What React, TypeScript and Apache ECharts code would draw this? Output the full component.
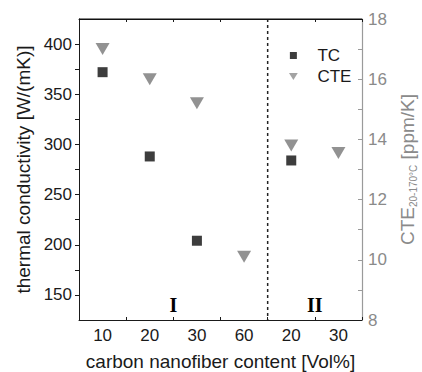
import React, { useEffect, useRef } from 'react';
import * as echarts from 'echarts';

const categories = ['10', '20', '30', '60', '20', '30'];
const tcValues: (number | null)[] = [372, 288, 204, null, 284, null];
const cteValues: (number | null)[] = [17.0, 16.0, 15.2, 10.1, 13.8, 13.55];
const leftLabelValues = [150, 200, 250, 300, 350, 400];
const leftTickValues = [150, 175, 200, 225, 250, 275, 300, 325, 350, 375, 400];
const rightLabelValues = [8, 10, 12, 14, 16, 18];
const rightTickValues = [9, 10, 11, 12, 13, 14, 15, 16, 17];
const groupLabels = ['I', 'II'];
const groupRanges: [number, number][] = [[1, 2], [4, 5]];
const boundaryPair: [number, number] = [3, 4];

const FONT = '"Liberation Sans", Arial, Helvetica, sans-serif';
const DARK = '#1a1a1a';
const GREY = '#8a8a8a';

export default function App() {
  const ref = useRef<HTMLDivElement>(null);
  useEffect(() => {
    if (!ref.current) return;
    const chart = echarts.init(ref.current, null, { renderer: 'svg' });
    const tcData = tcValues
      .map((v, i) => (v == null ? null : [i, v]))
      .filter((d) => d !== null);
    const cteData = cteValues
      .map((v, i) => (v == null ? null : [i, v]))
      .filter((d) => d !== null);
    const option: any = {
      animation: false,
      textStyle: { fontFamily: FONT },
      grid: {
        left: 79, right: 60, top: 19, bottom: 52, containLabel: false, outerBoundsMode: 'none',
      },
      legend: {
        orient: 'vertical',
        left: 284,
        top: 42,
        itemWidth: 10,
        itemHeight: 7,
        itemGap: 4,
        selectedMode: false,
        textStyle: { fontSize: 17, color: DARK, lineHeight: 17, padding: [0, 0, 0, 14], fontFamily: FONT },
        data: [
          { name: 'TC', icon: 'path://M0,0L10,0L10,10L0,10Z' },
          { name: 'CTE', icon: 'path://M0,0L10,0L5,8Z', itemStyle: { color: '#8c8c8c' } },
        ],
      },
      xAxis: [
        {
          type: 'category',
          data: categories,
          position: 'bottom',
          boundaryGap: true,
          axisLine: { show: true, onZero: false, lineStyle: { color: DARK, width: 1 } },
          axisTick: { show: true, inside: true, length: 3, lineStyle: { color: DARK } },
          axisLabel: { fontSize: 17, color: DARK, margin: 7, fontFamily: FONT },
          splitLine: { show: false },
          name: 'carbon nanofiber content [Vol%]',
          nameLocation: 'middle',
          nameGap: 32,
          nameTextStyle: { fontSize: 19, color: DARK, fontFamily: FONT },
        },
        {
          type: 'category',
          show: true,
          data: categories,
          position: 'top',
          boundaryGap: true,
          axisLine: { show: true, onZero: false, lineStyle: { color: DARK, width: 1 } },
          axisTick: { show: true, inside: true, length: 3, lineStyle: { color: DARK } },
          axisLabel: { show: false },
          splitLine: { show: false },
        },
      ],
      yAxis: [
        {
          type: 'value',
          position: 'left',
          min: 125,
          max: 425,
          axisLine: { show: true, onZero: false, lineStyle: { color: DARK, width: 1 } },
          axisTick: { show: true, inside: false, length: 4, customValues: leftTickValues, lineStyle: { color: DARK } },
          axisLabel: { fontSize: 17, color: DARK, margin: 7, customValues: leftLabelValues, fontFamily: FONT },
          splitLine: { show: false },
          name: 'thermal conductivity [W/(mK)]',
          nameLocation: 'middle',
          nameGap: 41,
          nameRotate: 90,
          nameTextStyle: { fontSize: 19, color: DARK, fontFamily: FONT },
        },
        {
          type: 'value',
          position: 'right',
          min: 8,
          max: 18,
          interval: 2,
          axisLine: { show: true, onZero: false, lineStyle: { color: '#9a9a9a', width: 1.2 } },
          axisTick: { show: true, inside: true, length: 4, customValues: rightTickValues, lineStyle: { color: '#9a9a9a' } },
          axisLabel: { fontSize: 17, color: GREY, margin: 6, customValues: rightLabelValues, fontFamily: FONT },
          splitLine: { show: false },
          name: '{m|CTE}{s|20-170°C}{m| [ppm/K]}',
          nameLocation: 'middle',
          nameGap: 30,
          nameRotate: 90,
          nameTextStyle: {
            color: GREY,
            fontFamily: FONT,
            rich: {
              m: { fontSize: 19, color: GREY, fontFamily: FONT, lineHeight: 22, verticalAlign: 'middle' },
              s: { fontSize: 10, color: GREY, fontFamily: FONT, lineHeight: 10, verticalAlign: 'bottom' },
            },
          },
        },
      ],
      series: [
        {
          name: 'TC',
          type: 'scatter',
          xAxisIndex: 0,
          yAxisIndex: 0,
          symbol: 'rect',
          symbolSize: 10,
          itemStyle: { color: '#0d0d0d' },
          data: tcData,
          z: 3,
        },
        {
          name: 'CTE',
          type: 'scatter',
          xAxisIndex: 0,
          yAxisIndex: 1,
          symbol: 'path://M0,0L14,0L7,12Z',
          symbolSize: [14, 12],
          itemStyle: { color: '#777777' },
          data: cteData,
          z: 2,
        },
      ],
    };
    chart.setOption(option);

    const cx = (i: number) => chart.convertToPixel({ xAxisIndex: 0 }, i) as unknown as number;
    const yTop = chart.convertToPixel({ yAxisIndex: 0 }, 425) as unknown as number;
    const yBot = chart.convertToPixel({ yAxisIndex: 0 }, 125) as unknown as number;
    const half = (cx(1) - cx(0)) / 2;
    const xDash = (cx(boundaryPair[0]) + cx(boundaryPair[1])) / 2;
    const graphics: any[] = [
      {
        type: 'rect',
        z: 50,
        shape: { x: cx(0) - half, y: yTop - 0.5, width: 2 * half * categories.length, height: 1.5 },
        style: { fill: '#111111' },
      },
      {
        type: 'line',
        z: 5,
        shape: { x1: xDash, y1: yTop, x2: xDash, y2: yBot },
        style: { stroke: '#222', lineWidth: 1.5, lineDash: [3, 3] },
      },
    ];
    groupLabels.forEach((lab, k) => {
      const [a, b] = groupRanges[k];
      graphics.push({
        type: 'text',
        z: 5,
        x: (cx(a) + cx(b)) / 2,
        y: yBot - 15,
        style: {
          text: lab,
          fontSize: 20,
          fontWeight: 'bold',
          fontFamily: '"Liberation Serif", "DejaVu Serif", serif',
          fill: '#000',
          align: 'center',
          verticalAlign: 'middle',
        },
      });
    });
    chart.setOption({ graphic: graphics });

    return () => chart.dispose();
  }, []);
  return (
    <div
      ref={ref}
      style={{ position: 'absolute', left: 0, top: 0, width: 422, height: 372 }}
    />
  );
}
